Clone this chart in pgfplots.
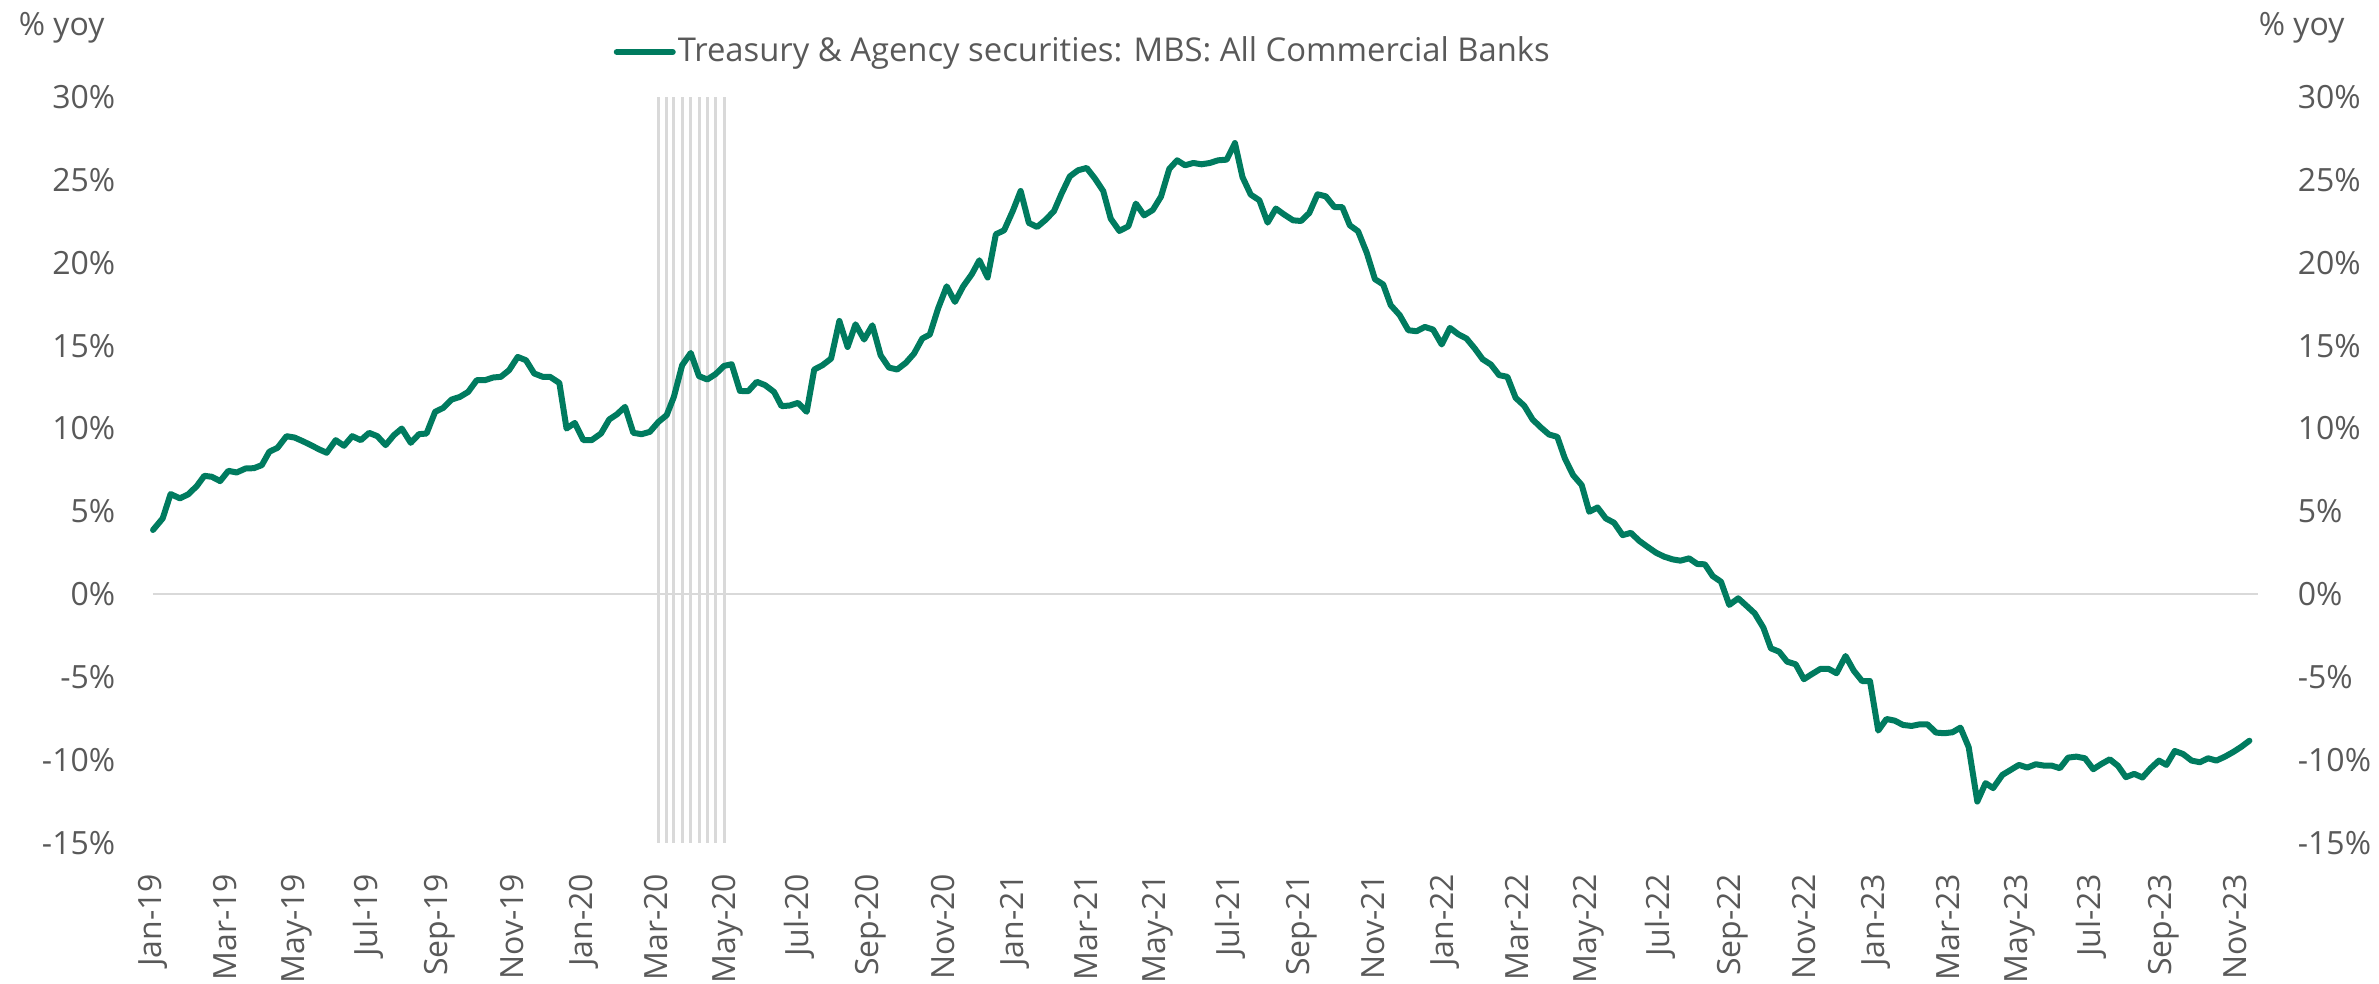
\documentclass[border=0pt]{standalone}
\usepackage{fontspec}
\setmainfont{Open Sans}
\usepackage{pgfplots}
\pgfplotsset{compat=1.18}
\definecolor{mbsgreen}{RGB}{0,123,95}
\definecolor{txtgray}{RGB}{89,89,89}
\definecolor{linegray}{RGB}{217,217,217}

\begin{document}
\begin{tikzpicture}
\useasboundingbox (-38.25pt,-35.25pt) rectangle (556.5pt,210.75pt);
\pgfplotsset{
  every axis/.append style={
    scale only axis, width=526.25pt, height=186.5pt,
    at={(0,0)}, anchor=south west,
    xmin=0, xmax=58.64, ymin=-15, ymax=30,
    ytick={-15,-10,...,30},
    yticklabels={-15\%,-10\%,-5\%,0\%,5\%,10\%,15\%,20\%,25\%,30\%},
    tick style={draw=none},
    axis line style={draw=none},
    font=\fontsize{8}{9.6}\selectfont,
    ticklabel style={text=txtgray, inner sep=0pt},
  }
}
% right-hand labels
\begin{axis}[
  axis y line*=right, axis x line=none,
  yticklabel style={anchor=west},
  yticklabel shift=9.75pt,
]
\end{axis}

\begin{axis}[
  clip=false,
  xtick={0,2,...,58},
  xticklabels={Jan-19,Mar-19,May-19,Jul-19,Sep-19,Nov-19,
               Jan-20,Mar-20,May-20,Jul-20,Sep-20,Nov-20,
               Jan-21,Mar-21,May-21,Jul-21,Sep-21,Nov-21,
               Jan-22,Mar-22,May-22,Jul-22,Sep-22,Nov-22,
               Jan-23,Mar-23,May-23,Jul-23,Sep-23,Nov-23},
  xticklabel style={rotate=90, anchor=east},
  xticklabel shift=7.5pt,
  yticklabel shift=9.25pt,
  extra y ticks={0},
  extra y tick labels={},
  extra y tick style={grid=major, major grid style={draw=linegray, line width=0.5pt}},
  legend style={at={(0.2185,1.0603)}, anchor=west, draw=none, fill=none,
    inner sep=0pt, column sep=0.5pt,
    nodes={inner sep=0pt, text=txtgray},
    font=\fontsize{8.2}{9.8}\selectfont},
  legend image code/.code={\draw[#1] (0pt,0pt) -- (14pt,0pt);},
]
% recession weeks (Mar-Apr 2020)
\addplot[ycomb, draw=linegray, line width=0.75pt, forget plot] coordinates {
(14.08,30) (14.31,30) (14.51,30) (14.74,30) (14.98,30)
(15.21,30) (15.44,30) (15.67,30) (15.91,30)
};
\addplot[ycomb, draw=linegray, line width=0.75pt, forget plot] coordinates {
(14.08,-15) (14.31,-15) (14.51,-15) (14.74,-15) (14.98,-15)
(15.21,-15) (15.44,-15) (15.67,-15) (15.91,-15)
};

\addplot[mbsgreen, line width=1.5pt, line join=round, line cap=round] coordinates {
(0.00,3.88) (0.27,4.58) (0.49,6.05) (0.75,5.79) (0.98,6.03) (1.22,6.53)
(1.43,7.15) (1.64,7.09) (1.87,6.83) (2.10,7.45) (2.33,7.35) (2.58,7.59)
(2.81,7.61) (3.03,7.79) (3.24,8.60) (3.47,8.84) (3.72,9.54) (3.94,9.46)
(4.17,9.24) (4.40,9.00) (4.63,8.74) (4.84,8.54) (5.09,9.30) (5.32,8.96)
(5.55,9.54) (5.79,9.30) (6.02,9.74) (6.25,9.54) (6.48,9.00) (6.71,9.60)
(6.93,10.00) (7.18,9.14) (7.41,9.66) (7.62,9.70) (7.86,11.01) (8.09,11.25)
(8.32,11.75) (8.55,11.91) (8.78,12.21) (9.02,12.92) (9.25,12.92) (9.48,13.08)
(9.69,13.12) (9.92,13.52) (10.16,14.32) (10.39,14.12) (10.62,13.32) (10.86,13.12)
(11.06,13.12) (11.32,12.75) (11.52,10.00) (11.75,10.34) (11.99,9.30) (12.22,9.30)
(12.48,9.70) (12.71,10.55) (12.92,10.85) (13.15,11.31) (13.38,9.74) (13.61,9.66)
(13.84,9.80) (14.08,10.40) (14.31,10.81) (14.51,11.91) (14.74,13.82) (14.98,14.56)
(15.21,13.16) (15.44,12.96) (15.67,13.28) (15.91,13.78) (16.12,13.88) (16.35,12.27)
(16.58,12.25) (16.82,12.82) (17.05,12.62) (17.30,12.21) (17.51,11.35) (17.74,11.39)
(17.97,11.55) (18.21,11.01) (18.42,13.56) (18.65,13.82) (18.89,14.22) (19.12,16.49)
(19.35,14.92) (19.57,16.29) (19.81,15.37) (20.04,16.23) (20.27,14.42) (20.50,13.68)
(20.73,13.56) (20.97,13.96) (21.20,14.52) (21.43,15.43) (21.64,15.67) (21.87,17.24)
(22.11,18.58) (22.34,17.64) (22.57,18.58) (22.81,19.31) (23.02,20.15) (23.25,19.11)
(23.48,21.72) (23.71,21.96) (23.95,23.12) (24.17,24.33) (24.40,22.40) (24.63,22.16)
(24.87,22.60) (25.10,23.12) (25.31,24.17) (25.54,25.21) (25.77,25.58) (26.01,25.72)
(26.24,25.08) (26.47,24.33) (26.68,22.66) (26.92,21.92) (27.17,22.20) (27.38,23.57)
(27.61,22.86) (27.85,23.18) (28.08,23.99) (28.31,25.66) (28.53,26.18) (28.75,25.88)
(28.98,26.02) (29.21,25.94) (29.44,26.02) (29.67,26.18) (29.91,26.22) (30.14,27.22)
(30.35,25.17) (30.58,24.11) (30.82,23.77) (31.05,22.42) (31.28,23.27) (31.51,22.91)
(31.76,22.56) (31.98,22.52) (32.21,23.00) (32.44,24.13) (32.67,24.01) (32.91,23.36)
(33.13,23.36) (33.34,22.26) (33.57,21.90) (33.81,20.61) (34.04,19.01) (34.27,18.69)
(34.48,17.44) (34.73,16.84) (34.97,15.93) (35.20,15.87) (35.43,16.13) (35.66,15.97)
(35.90,15.07) (36.13,16.07) (36.36,15.69) (36.59,15.43) (36.82,14.83) (37.04,14.18)
(37.27,13.86) (37.50,13.22) (37.73,13.12) (37.96,11.85) (38.20,11.37) (38.43,10.55)
(38.66,10.07) (38.89,9.64) (39.12,9.50) (39.33,8.20) (39.56,7.19) (39.80,6.59)
(40.01,4.98) (40.24,5.24) (40.47,4.58) (40.70,4.32) (40.94,3.57) (41.17,3.71)
(41.40,3.23) (41.63,2.87) (41.87,2.51) (42.10,2.27) (42.33,2.11) (42.55,2.03)
(42.79,2.17) (43.02,1.83) (43.23,1.81) (43.45,1.10) (43.68,0.76) (43.91,-0.64)
(44.16,-0.24) (44.40,-0.71) (44.62,-1.15) (44.86,-2.01) (45.07,-3.26) (45.30,-3.46)
(45.52,-4.06) (45.76,-4.22) (45.99,-5.12) (46.22,-4.80) (46.45,-4.50) (46.68,-4.50)
(46.90,-4.76) (47.15,-3.72) (47.38,-4.61) (47.61,-5.23) (47.83,-5.23) (48.06,-8.22)
(48.29,-7.52) (48.52,-7.62) (48.75,-7.88) (48.99,-7.94) (49.22,-7.84) (49.43,-7.84)
(49.67,-8.34) (49.90,-8.38) (50.13,-8.32) (50.35,-8.04) (50.58,-9.22) (50.82,-12.50)
(51.05,-11.39) (51.26,-11.69) (51.52,-10.89) (51.75,-10.59) (51.98,-10.29) (52.21,-10.45)
(52.45,-10.25) (52.67,-10.33) (52.89,-10.33) (53.12,-10.49) (53.35,-9.85) (53.58,-9.79)
(53.82,-9.89) (54.05,-10.55) (54.28,-10.23) (54.51,-9.95) (54.74,-10.35) (54.96,-11.03)
(55.19,-10.83) (55.42,-11.05) (55.65,-10.49) (55.88,-10.03) (56.09,-10.29) (56.32,-9.45)
(56.55,-9.63) (56.79,-10.03) (57.02,-10.13) (57.25,-9.89) (57.48,-10.03) (57.72,-9.79)
(57.95,-9.51) (58.18,-9.19) (58.40,-8.83)
};
\addlegendentry{Treasury \& Agency securities: MBS: All Commercial Banks}

\node[anchor=west, inner sep=0pt, text=txtgray] at (rel axis cs:-0.0641,1.0925) {\% yoy};
\node[anchor=west, inner sep=0pt, text=txtgray] at (rel axis cs:1.0,1.0925) {\% yoy};
\end{axis}
\end{tikzpicture}
\end{document}
